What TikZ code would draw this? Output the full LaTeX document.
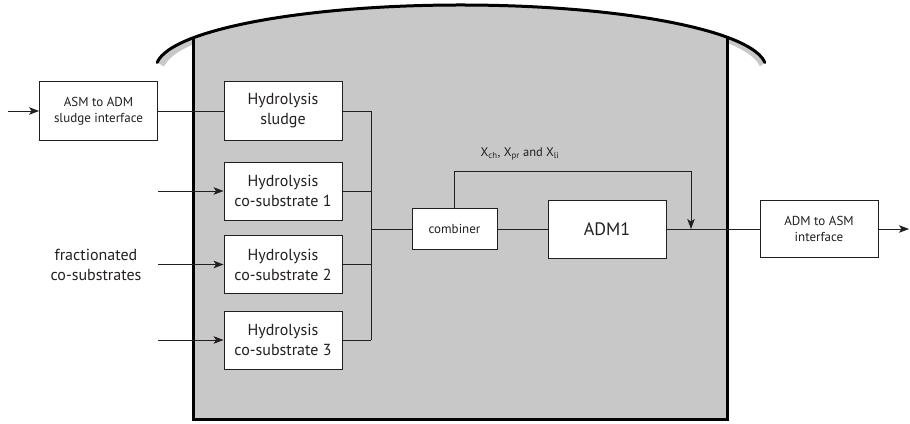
\documentclass[tikz,border=0pt]{standalone}
\usepackage{fontspec}
\setmainfont{PT Sans}
\usetikzlibrary{arrows.meta}
\definecolor{tankgray}{RGB}{200,200,200}
\definecolor{ink}{RGB}{35,31,32}
\begin{document}
\begin{tikzpicture}[x=1pt, y=1pt,
    blk/.style={draw=ink, fill=white, line width=0.9pt, inner sep=0pt, align=center, minimum width=118pt, text=ink},
    txtbig/.style={font=\fontsize{16}{20}\selectfont},
    txtsmall/.style={font=\fontsize{13}{16}\selectfont},
    wire/.style={line width=0.8pt, draw=ink},
    arr/.style={wire, -{Stealth[length=10pt, width=7.5pt, inset=2.5pt]}}]
    \useasboundingbox (0,0) rectangle (910,423);
    % tank: shadow under the roof, body, walls and roof
    \fill[tankgray] (157.16,360.49) arc[start angle=175, end angle=5, x radius=305, y radius=63]
        -- (759.9,356.5) arc[start angle=5, end angle=175, x radius=299, y radius=63] -- cycle;
    \fill[tankgray] (193,4) -- (193,385.1) arc[start angle=151.5, end angle=29.3, x radius=305, y radius=63] -- (727,4) -- cycle;
    \draw[line width=3pt] (193,385.1) -- (193,4) -- (727,4) -- (727,385.8);
    \draw[line width=3pt, line cap=round] (157.16,360.49) arc[start angle=175, end angle=5, x radius=305, y radius=63];
    % blocks
    \node[blk, txtsmall, minimum height=59pt] (asm) at (98.5,312) {ASM to ADM\\sludge interface};
    \node[blk, txtbig, minimum height=59pt] (hs) at (283,312) {Hydrolysis\\sludge};
    \node[blk, txtbig, minimum height=58pt] (hc1) at (283,232) {Hydrolysis\\co-substrate 1};
    \node[blk, txtbig, minimum height=58pt] (hc2) at (283,158.5) {Hydrolysis\\co-substrate 2};
    \node[blk, txtbig, minimum height=58pt] (hc3) at (283,83) {Hydrolysis\\co-substrate 3};
    \node[blk, txtsmall, minimum width=85pt, minimum height=41pt] (comb) at (454.5,194) {combiner};
    \node[blk, font=\fontsize{18}{22}\selectfont, minimum height=58pt] (adm) at (607,194) {ADM1};
    \node[blk, txtsmall, minimum height=57pt] (out) at (819,194) {ADM to ASM\\interface};
    % labels
    \node[txtbig, align=center, text=ink] (frac) at (96,158) {fractionated\\co-substrates};
    \node[font=\fontsize{12.5}{15}\selectfont, text=ink] (xlab) at (520,269) {X\textsubscript{ch}, X\textsubscript{pr} and X\textsubscript{li}};
    % free ends and junctions
    \coordinate (in0) at (8,312);
    \coordinate (bus) at (371,194);
    \coordinate (byp) at (691,252);
    \coordinate (mix) at (691,194);
    \coordinate (outend) at (909,194);
    % connectors
    \draw[arr] (in0) -- (asm);
    \draw[wire] (asm) -- (hs);
    \foreach \i/\y in {1/232, 2/158.5, 3/83} {
        \coordinate (in\i) at (158,\y);
        \draw[arr] (in\i) -- (hc\i);
        \draw[wire] (hc\i.east) -- (hc\i.east -| bus);
    }
    \draw[wire] (hs.east) -- (hs.east -| bus) -- (hc3.east -| bus);
    \draw[wire] (bus) -- (comb);
    \draw[wire] (comb) -- (adm);
    \draw[wire] (adm) -- (out);
    \draw[arr] (out) -- (outend);
    \draw[arr] (comb.north) |- (byp) -- (mix);
\end{tikzpicture}
\end{document}
